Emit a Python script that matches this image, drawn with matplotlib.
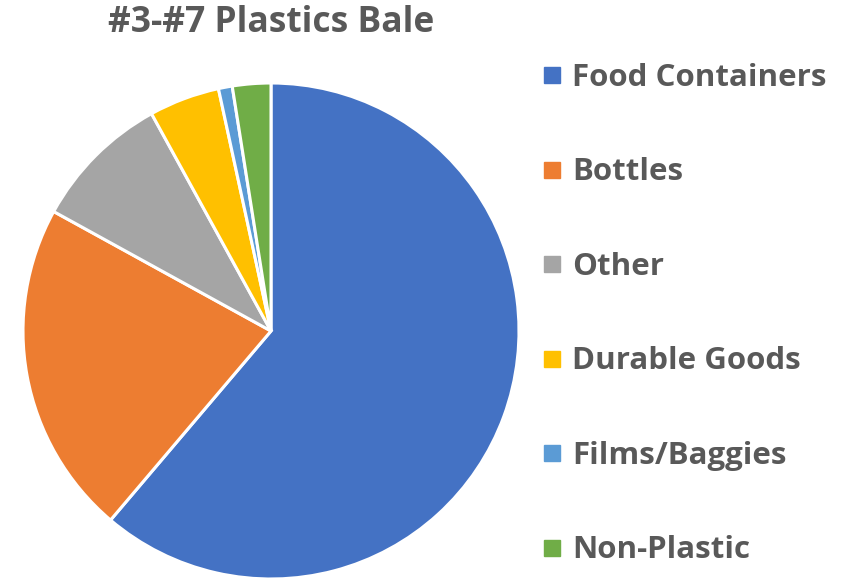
import numpy as np
import matplotlib.pyplot as plt

# slice data, clockwise from 12 o'clock
labels = ['Food Containers', 'Bottles', 'Other', 'Durable Goods', 'Films/Baggies', 'Non-Plastic']
shares = [61.2, 21.8, 9.0, 4.6, 0.9, 2.5]
colors = ['#4472C4', '#ED7D31', '#A5A5A5', '#FFC000', '#5B9BD5', '#70AD47']

txt_col = '#595959'
plt.rcParams['font.family'] = ['Open Sans', 'DejaVu Sans']

W, H = 843, 579
fig = plt.figure(figsize=(W / 100, H / 100), dpi=100)

# pie placed by pixel centre and radius
cx, cy, r = 271, 331, 248
ax = fig.add_axes([(cx - r) / W, (H - cy - r) / H, 2 * r / W, 2 * r / H])
ax.pie(shares, colors=colors, startangle=90, counterclock=False, radius=1,
       wedgeprops=dict(edgecolor='white', linewidth=2.2))
ax.set_xlim(-1, 1)
ax.set_ylim(-1, 1)
ax.set_aspect('auto')
ax.axis('off')

fig.text(cx / W, 1 - 23 / H, '#3-#7 Plastics Bale', ha='center', va='center',
         fontsize=25.5, fontweight='bold', color=txt_col)

# legend drawn by hand
ys = np.linspace(75, 548, len(labels))
sq = 16
for lab, col, y in zip(labels, colors, ys):
    fig.patches.append(plt.Rectangle((544 / W, (H - y - sq / 2) / H), sq / W, sq / H,
                                     transform=fig.transFigure, color=col))
    fig.text(572 / W, 1 - (y + 2.5) / H, lab, ha='left', va='center',
             fontsize=22.5, fontweight='bold', color=txt_col)

fig.savefig('out.png', dpi=100)
